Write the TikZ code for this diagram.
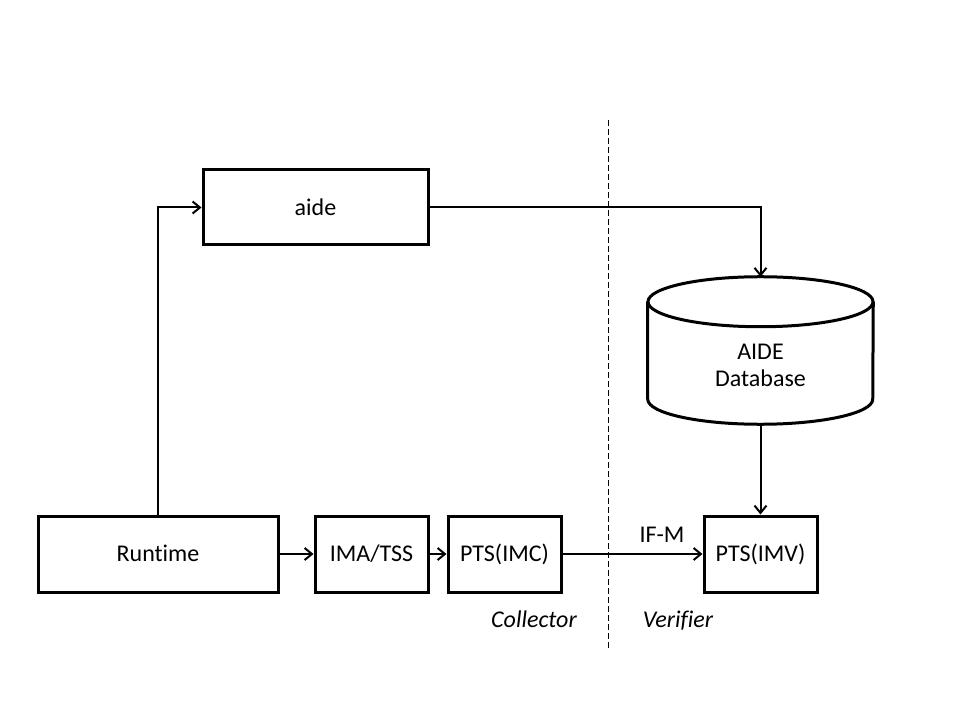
\documentclass[tikz,border=0pt]{standalone}
\usepackage{fontspec}
\setmainfont{Carlito}[Ligatures=NoCommon]
\usetikzlibrary{arrows.meta}
\begin{document}
\begin{tikzpicture}[x=0.75pt,y=-0.75pt,
  txt/.style={font=\fontsize{18}{21.6}\selectfont, text height=15pt, text depth=3.4pt},
  box/.style={draw, line width=2.25pt, inner sep=0pt, txt},
  conn/.style={line width=1.5pt, -{Straight Barb[length=5.5pt,width=9pt,line width=1.5pt]}},
  lbl/.style={txt, inner sep=0pt},
  ilbl/.style={txt, font=\fontsize{18}{21.6}\selectfont\itshape, inner sep=0pt}]
\useasboundingbox (0,0) rectangle (960,720);
\node[box, minimum width=240*0.75pt, minimum height=76*0.75pt] (rt) at (158,554) {Runtime};
\node[box, minimum width=113*0.75pt, minimum height=76*0.75pt] (ima) at (371.5,554) {IMA/TSS};
\node[box, minimum width=113*0.75pt, minimum height=76*0.75pt] (imc) at (504.5,554) {PTS(IMC)};
\node[box, minimum width=113*0.75pt, minimum height=76*0.75pt] (imv) at (760.5,554) {PTS(IMV)};
\node[box, minimum width=225*0.75pt, minimum height=75*0.75pt] (aide) at (315.5,207.5) {aide};
% database cylinder
\node[inner sep=0pt, minimum width=225*0.75pt, minimum height=147*0.75pt] (db) at (760.5,350.5) {};
\draw[line width=2.25pt] ([yshift=-18.75pt]db.north) ellipse [x radius=84.375pt, y radius=18.75pt];
\draw[line width=2.25pt] ([yshift=-18.75pt]db.north west) -- ([yshift=18.75pt]db.south west)
  arc[start angle=180, end angle=360, x radius=84.375pt, y radius=18.75pt]
  -- ([yshift=-18.75pt]db.north east);
\node[lbl] (dbl1) at (760.5,351.5) {AIDE};
\node[lbl] (dbl2) at (760.5,379) {Database};
% dashed divider
\coordinate (dtop) at (608,120);
\coordinate (dbot) at (608,648);
\draw[line width=0.75pt, dash pattern=on 4.5pt off 2.25pt] (dtop) -- (dbot);
% connectors
\draw[conn] (rt.north) |- (aide.west);
\draw[conn] (aide.east) -| (db.north);
\draw[conn] (db.south) -- (imv.north);
\draw[conn] (rt.east) -- (ima.west);
\draw[conn] (ima.east) -- (imc.west);
\draw[conn] (imc.east) -- (imv.west);
% labels
\node[lbl] (ifm) at (662,535) {IF-M};
\node[ilbl] (col) at (534,620) {Collector};
\node[ilbl] (ver) at (678,620) {Verifier};
\end{tikzpicture}
\end{document}
